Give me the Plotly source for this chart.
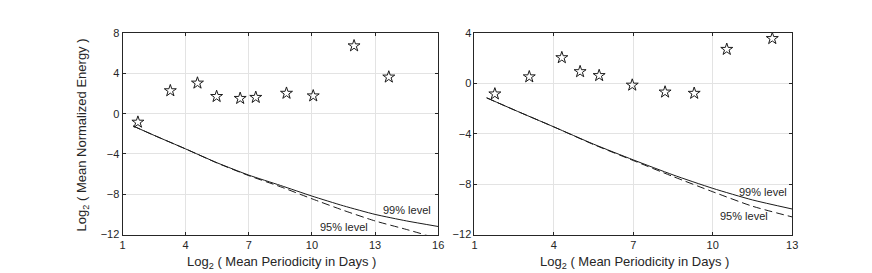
import plotly.graph_objects as go

# ---- data ----
left_star_x = [1.73, 3.27, 4.56, 5.47, 6.59, 7.33, 8.79, 10.06, 12.0, 13.65]
left_star_y = [-0.84, 2.28, 3.04, 1.71, 1.52, 1.62, 2.03, 1.77, 6.74, 3.64]
left_curve_x = [1.5, 2.5, 4, 5.5, 7, 8.5, 10, 11.5, 13, 14.5, 16]
left_99 = [-1.22, -2.15, -3.5, -4.88, -6.1, -7.12, -8.18, -9.15, -10.0, -10.65, -11.2]
left_95 = [-1.22, -2.15, -3.5, -4.9, -6.15, -7.25, -8.45, -9.6, -10.65, -11.5, -12.4]

right_star_x = [1.77, 3.07, 4.30, 4.99, 5.71, 6.96, 8.20, 9.30, 10.53, 12.25]
right_star_y = [-0.83, 0.53, 2.05, 0.94, 0.63, -0.13, -0.68, -0.78, 2.71, 3.57]
right_curve_x = [1.46, 2.5, 4, 5.5, 7, 8.5, 10, 11.5, 13]
right_99 = [-1.14, -2.1, -3.45, -4.82, -6.07, -7.26, -8.33, -9.25, -9.97]
right_95 = [-1.14, -2.1, -3.45, -4.85, -6.12, -7.39, -8.6, -9.75, -10.6]

left_xticks = [1, 4, 7, 10, 13, 16]
left_yticks = [8, 4, 0, -4, -8, -12]
right_xticks = [1, 4, 7, 10, 13]
right_yticks = [4, 0, -4, -8, -12]

FONT = "Liberation Sans, Arial, Helvetica, sans-serif"
INK = "#262626"
LINE = "#1a1a1a"

fig = go.Figure()

def add_panel(xa, ya, sx, sy, cx, c99, c95):
    fig.add_trace(go.Scatter(x=cx, y=c99, mode="lines", xaxis=xa, yaxis=ya,
                             line=dict(color=LINE, width=1, shape="spline", smoothing=0.6),
                             showlegend=False, hoverinfo="skip"))
    fig.add_trace(go.Scatter(x=cx, y=c95, mode="lines", xaxis=xa, yaxis=ya,
                             line=dict(color=LINE, width=1, dash="8px,4px", shape="spline", smoothing=0.6),
                             showlegend=False, hoverinfo="skip"))
    fig.add_trace(go.Scatter(x=sx, y=sy, mode="markers", xaxis=xa, yaxis=ya,
                             marker=dict(symbol="star-open", size=9, color=LINE,
                                         line=dict(width=1, color=LINE)),
                             showlegend=False))

add_panel("x", "y", left_star_x, left_star_y, left_curve_x, left_99, left_95)
add_panel("x2", "y2", right_star_x, right_star_y, right_curve_x, right_99, right_95)

ydom = [1 - 230.7 / 273, 1 - 20 / 273]
axis_common = dict(showline=True, linecolor=INK, linewidth=1, mirror="allticks",
                   ticks="inside", ticklen=3, tickcolor=INK, showgrid=True,
                   gridcolor="#e3e3e3", gridwidth=1, zeroline=False,
                   tickfont=dict(family=FONT, size=11, color=INK))

fig.update_layout(
    width=872, height=273,
    margin=dict(l=0, r=0, t=0, b=0),
    paper_bgcolor="white", plot_bgcolor="white",
    xaxis=dict(domain=[112.7 / 872, 431.7 / 872], range=[1, 16], tickvals=left_xticks,
               anchor="y", **axis_common),
    yaxis=dict(domain=ydom, range=[-12, 8], tickvals=left_yticks, anchor="x", **axis_common),
    xaxis2=dict(domain=[468.3 / 872, 789.3 / 872], range=[1, 13], tickvals=right_xticks,
                anchor="y2", **axis_common),
    yaxis2=dict(domain=ydom, range=[-12, 4], tickvals=right_yticks, anchor="x2", **axis_common),
)

ann_font = dict(family=FONT, size=11, color=INK)
title_font = dict(family=FONT, size=13, color=INK)
annotations = [
    dict(x=15.76, y=-9.6, xref="x", yref="y", text="99% level", showarrow=False,
         xanchor="right", yanchor="middle", font=ann_font),
    dict(x=11.5, y=-11.21, xref="x", yref="y", text="95% level", showarrow=False,
         xanchor="center", yanchor="middle", font=ann_font),
    dict(x=12.88, y=-8.58, xref="x2", yref="y2", text="99% level", showarrow=False,
         xanchor="right", yanchor="middle", font=ann_font),
    dict(x=11.18, y=-10.56, xref="x2", yref="y2", text="95% level", showarrow=False,
         xanchor="center", yanchor="middle", font=ann_font),
    dict(x=273.3 / 872, y=1 - 260 / 273, xref="paper", yref="paper",
         text="Log<sub>2</sub> ( Mean Periodicity in Days )", showarrow=False,
         xanchor="center", yanchor="middle", font=title_font),
    dict(x=629.7 / 872, y=1 - 260 / 273, xref="paper", yref="paper",
         text="Log<sub>2</sub> ( Mean Periodicity in Days )", showarrow=False,
         xanchor="center", yanchor="middle", font=title_font),
    dict(x=72 / 872, y=1 - 126.7 / 273, xref="paper", yref="paper",
         text="Log<sub>2</sub> ( Mean Normalized Energy )", showarrow=False,
         textangle=-90, xanchor="center", yanchor="middle", font=title_font),
]
fig.update_layout(annotations=annotations)

fig.write_html("out.html")
